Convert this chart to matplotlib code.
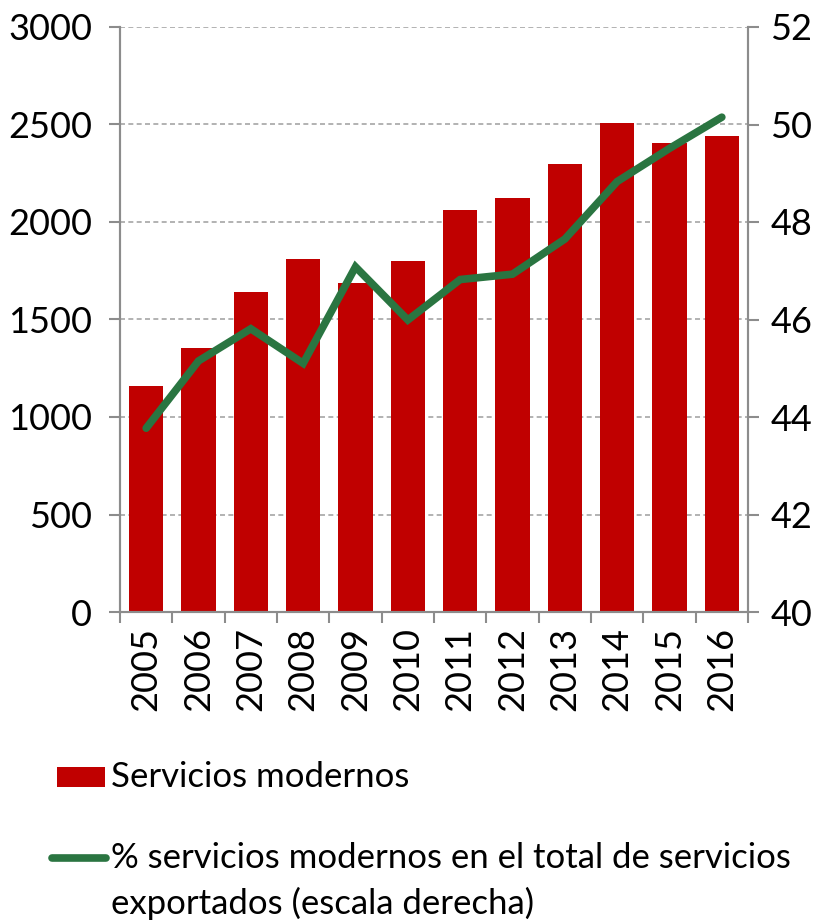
import matplotlib
matplotlib.use("Agg")
import matplotlib.pyplot as plt
from matplotlib.patches import Rectangle
from matplotlib.lines import Line2D
import numpy as np

plt.rcParams['font.family'] = ['Lato', 'DejaVu Sans']

years = ['2005', '2006', '2007', '2008', '2009', '2010', '2011', '2012', '2013', '2014', '2015', '2016']
servicios_modernos = [1160, 1352, 1639, 1812, 1687, 1798, 2060, 2123, 2296, 2509, 2403, 2443]
pct_modernos = [43.77, 45.15, 45.81, 45.10, 47.08, 45.99, 46.82, 46.93, 47.65, 48.83, 49.51, 50.15]
left_ticks = [0, 500, 1000, 1500, 2000, 2500, 3000]
right_ticks = [40, 42, 44, 46, 48, 50, 52]
label_bars = 'Servicios modernos'
label_line = '% servicios modernos en el total de servicios\nexportados (escala derecha)'

W, H = 827, 922
fig = plt.figure(figsize=(W/100, H/100), dpi=100)
ax = fig.add_axes([120/W, 1-612/H, (748-120)/W, (612-27)/H])

x = np.arange(len(years))
bar_color = '#C00000'
line_color = '#2A7541'
axis_color = '#8C8C8C'
fs = 26
lfs = 25

ax.bar(x, servicios_modernos, width=0.66, color=bar_color, zorder=2)
ax.set_xlim(-0.5, len(years)-0.5)
ax.set_ylim(0, 3000)
ax.set_yticks(left_ticks)
ax.set_yticklabels([str(v) for v in left_ticks], fontsize=fs)
ax.yaxis.grid(True, linestyle=(0, (3, 2)), color='#A6A6A6', linewidth=1.2, zorder=0)
ax.set_axisbelow(True)

ax.set_xticks(x)
ax.set_xticklabels(years, rotation=90, fontsize=fs)
ax.set_xticks(np.arange(len(years)+1)-0.5, minor=True)
ax.tick_params(axis='x', which='major', length=0, pad=11)
ax.tick_params(axis='x', which='minor', length=8, width=1.5, color=axis_color)
ax.tick_params(axis='y', length=8, width=1.5, color=axis_color, pad=12)

for s in ['top']:
    ax.spines[s].set_visible(False)
for s in ['left', 'right', 'bottom']:
    ax.spines[s].set_color(axis_color)
    ax.spines[s].set_linewidth(1.5)

ax2 = ax.twinx()
ax2.plot(x, pct_modernos, color=line_color, linewidth=5.5, solid_capstyle='round', solid_joinstyle='miter', zorder=3)
ax2.set_ylim(40, 52)
ax2.set_yticks(right_ticks)
ax2.set_yticklabels([str(v) for v in right_ticks], fontsize=fs)
ax2.tick_params(axis='y', length=8, width=1.5, color=axis_color, pad=8)
ax2.spines['top'].set_visible(False)
for s in ['left', 'right', 'bottom']:
    ax2.spines[s].set_color(axis_color)
    ax2.spines[s].set_linewidth(1.5)

# Legend (drawn manually in figure pixel coords)
fig.patches.append(Rectangle((57/W, 1-787/H), 48/W, 20/H, transform=fig.transFigure,
                             facecolor=bar_color, edgecolor='none'))
fig.text(111/W, 1-777/H, label_bars, fontsize=lfs, va='center', ha='left')
fig.lines.append(Line2D([52/W, 106/W], [1-858/H, 1-858/H], transform=fig.transFigure,
                        color=line_color, linewidth=5.5, solid_capstyle='round'))
fig.text(111/W, 1-858/H, label_line.split('\n')[0], fontsize=lfs, va='center', ha='left')
fig.text(111/W, 1-903/H, label_line.split('\n')[1], fontsize=lfs, va='center', ha='left')

fig.savefig('out.png', dpi=100)
